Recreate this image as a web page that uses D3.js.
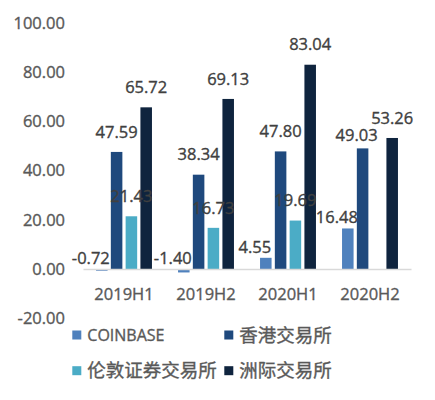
<!DOCTYPE html>
<html>

<head>
  <meta charset="UTF-8">
  <title>Exchange chart</title>
  <style>
    body {
      margin: 0;
      background: #fff;
    }

    text {
      font-family: "Open Sans", "Noto Sans CJK SC", sans-serif;
      stroke-width: 0.35px;
    }
  </style>
</head>

<body>
  <svg width="435" height="400" id="chart"></svg>
  <script src="https://d3js.org/d3.v7.min.js"></script>

  <script>
    // data
    var categories = ["2019H1", "2019H2", "2020H1", "2020H2"];
    var seriesNames = ["COINBASE", "香港交易所", "伦敦证券交易所", "洲际交易所"];
    var coinbase = [-0.72, -1.40, 4.55, 16.48];
    var hkex = [47.59, 38.34, 47.80, 49.03];
    var lse = [21.43, 16.73, 19.69, null];
    var ice = [65.72, 69.13, 83.04, 53.26];
    var yTicks = [-20, 0, 20, 40, 60, 80, 100];
    var colors = ["#4f81bd", "#1f497d", "#4bacc6", "#0f243e"];

    var seriesValues = [coinbase, hkex, lse, ice];

    // plain hyphen for negatives, like the original
    var fmt = d3.formatLocale({ decimal: ".", thousands: ",", grouping: [3], currency: ["", ""], minus: "-" }).format(".2f");

    var svg = d3.select("#chart");

    var x0 = d3.scaleBand().domain(categories).range([83, 411]);
    var bw = x0.bandwidth();
    var x1 = d3.scaleBand().domain(seriesNames)
      .range([bw * 0.159, bw * 0.841])
      .paddingInner(0.22);
    var y = d3.scaleLinear().domain([-20, 100]).range([318.2, 23]);

    // y axis (labels only)
    var yAxis = svg.append("g")
      .attr("transform", "translate(83,0)")
      .call(d3.axisLeft(y).tickValues(yTicks).tickSize(0).tickPadding(18)
        .tickFormat(fmt));
    yAxis.select(".domain").remove();
    yAxis.selectAll("text")
      .style("font-family", "'Open Sans', sans-serif")
      .style("font-size", "16.5px")
      .attr("fill", "#595959")
      .attr("stroke", "#595959");

    // flatten into bar records
    var bars = [];
    seriesNames.forEach(function (s, si) {
      categories.forEach(function (c, ci) {
        var v = seriesValues[si][ci];
        if (v === null) return;
        bars.push({ series: s, si: si, cat: c, ci: ci, value: v });
      });
    });

    svg.append("g").selectAll("rect")
      .data(bars)
      .enter().append("rect")
      .attr("x", function (d) { return x0(d.cat) + x1(d.series); })
      .attr("width", x1.bandwidth())
      .attr("y", function (d) { return y(Math.max(0, d.value)); })
      .attr("height", function (d) { return Math.abs(y(d.value) - y(0)); })
      .attr("fill", function (d) { return colors[d.si]; });

    // category axis with grey baseline
    var xAxis = svg.append("g")
      .attr("transform", "translate(0," + y(0) + ")")
      .call(d3.axisBottom(x0).tickSize(0).tickSizeOuter(0).tickPadding(19));
    xAxis.select(".domain").attr("stroke", "#d9d9d9").attr("stroke-width", 1.5);
    xAxis.selectAll("text")
      .style("font-family", "'Open Sans', sans-serif")
      .style("font-size", "16.5px")
      .attr("fill", "#595959")
      .attr("stroke", "#595959");

    // data labels
    svg.append("g").selectAll("text")
      .data(bars)
      .enter().append("text")
      .attr("text-anchor", "middle")
      .attr("dy", "0.35em")
      .style("font-size", "16.5px")
      .attr("fill", "#404040")
      .attr("stroke", "#404040")
      .attr("x", function (d) {
        var cx = x0(d.cat) + x1(d.series) + x1.bandwidth() / 2;
        if (d.si === 0) cx -= 11;
        if (d.si === 1 && d.ci === 3) cx -= 6; // nudged in the original
        return cx;
      })
      .attr("y", function (d) {
        var top = y(Math.max(0, d.value));
        if (d.si === 0) return top - 11;
        if (d.si === 1 && d.ci === 3) return top - 13;
        return top - 20;
      })
      .text(function (d) { return fmt(d.value); });

    // legend
    var legend = svg.append("g").selectAll("g")
      .data(seriesNames)
      .enter().append("g")
      .attr("transform", function (d, i) {
        return "translate(" + (i % 2 === 0 ? 72.3 : 224.3) + "," + (i < 2 ? 335 : 370.7) + ")";
      });
    legend.append("rect")
      .attr("x", 0).attr("y", -4.5)
      .attr("width", 9).attr("height", 9)
      .attr("fill", function (d, i) { return colors[i]; });
    legend.append("text")
      .attr("x", 15)
      .attr("dy", "0.36em")
      .attr("fill", "#595959")
      .attr("stroke", "#595959")
      .style("font-size", function (d) { return /^[\x00-\x7f]+$/.test(d) ? "16px" : "18.5px"; })
      .text(function (d) { return d; });
  </script>
</body>

</html>
